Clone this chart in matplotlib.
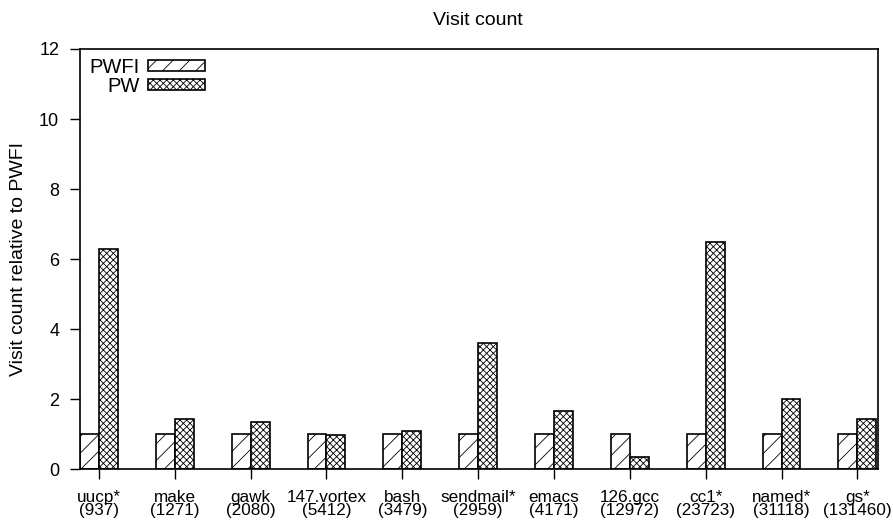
import matplotlib
matplotlib.use("Agg")
import matplotlib.pyplot as plt
import numpy as np

plt.rcParams['font.family'] = ['Liberation Sans', 'DejaVu Sans']
plt.rcParams['hatch.linewidth'] = 0.6

# данные
programs = ["uucp*", "make", "gawk", "147.vortex", "bash", "sendmail*",
            "emacs", "126.gcc", "cc1*", "named*", "gs*"]
counts = ["937", "1271", "2080", "5412", "3479", "2959",
          "4171", "12972", "23723", "31118", "131460"]
pwfi = [1, 1, 1, 1, 1, 1, 1, 1, 1, 1, 1]
pw = [6.3, 1.42, 1.35, 0.97, 1.1, 3.6, 1.67, 0.33, 6.5, 1.99, 1.42]

labels = [p + "\n(" + c + ")" for p, c in zip(programs, counts)]
x = np.arange(len(programs))
w = 0.25

fig = plt.figure(figsize=(8.93, 5.28), dpi=100)
ax = fig.add_axes([0.0896, 0.1117, 0.8934, 0.7955])

ax.bar(x - w / 2, pwfi, w, color="white", edgecolor="black", hatch="//",
       linewidth=1.2, label="PWFI")
ax.bar(x + w / 2, pw, w, color="white", edgecolor="black", hatch="xxxxx",
       linewidth=1.2, label="PW")

ax.set_xlim(-0.25, 10.27)
ax.set_ylim(0, 12)
ax.set_yticks(range(0, 13, 2))
ax.set_xticks(x)
ax.set_xticklabels(labels, fontsize=12.3, linespacing=0.85)
ax.tick_params(axis="y", labelsize=13, length=7, width=1, direction="out", pad=8)
ax.tick_params(axis="x", length=7, width=1, direction="out", pad=8)
for s in ax.spines.values():
    s.set_linewidth(1.2)

ax.set_ylabel("Visit count relative to PWFI", fontsize=14)
ax.yaxis.set_label_coords(-0.066, 0.5)
fig.text(0.535, 0.962, "Visit count", ha="center", va="center", fontsize=14)

ax.legend(loc="upper left", frameon=False, markerfirst=False, fontsize=14.5,
          handlelength=2.8, handleheight=0.45, labelspacing=0.0,
          borderaxespad=0.1, borderpad=0.35, handletextpad=0.45)

fig.savefig("out.png", dpi=100)
